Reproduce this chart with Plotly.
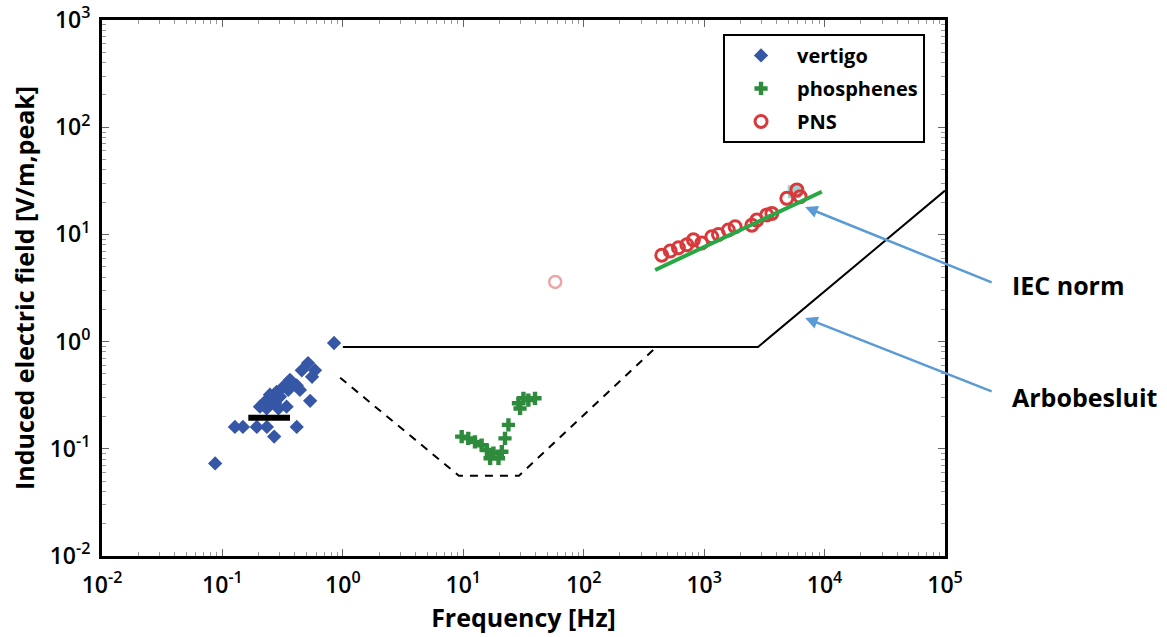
import math
import plotly.graph_objects as go

# Exposure data: frequency [Hz] vs induced electric field [V/m, peak]
vertigo_freq = [0.087, 0.845, 0.514, 0.587, 0.555, 0.535, 0.414, 0.269,
                0.127, 0.148, 0.193, 0.234, 0.364, 0.414, 0.321, 0.352,
                0.282, 0.248, 0.300, 0.257, 0.226, 0.274, 0.205, 0.233,
                0.292, 0.341, 0.440, 0.456]
vertigo_field = [0.073, 0.97, 0.63, 0.54, 0.47, 0.28, 0.16, 0.13,
                 0.16, 0.16, 0.16, 0.16, 0.44, 0.39, 0.38, 0.354,
                 0.34, 0.32, 0.306, 0.285, 0.275, 0.266, 0.247, 0.238,
                 0.238, 0.247, 0.354, 0.54]

phosphenes_freq = [9.7, 11.0, 12.5, 14.2, 15.7, 17.8, 16.7, 19.6, 20.9,
                   22.2, 23.7, 28.7, 31.6, 34.7, 39.4, 29.6]
phosphenes_field = [0.13, 0.125, 0.116, 0.108, 0.0975, 0.091, 0.0815, 0.0815,
                    0.094, 0.125, 0.167, 0.266, 0.296, 0.285, 0.296, 0.238]

pns_freq = [445, 523, 612, 718, 815, 955, 1158, 1315, 1590, 1810,
            2490, 2735, 3310, 3650, 4860, 6270, 5890]
pns_field = [6.4, 7.0, 7.5, 8.0, 8.9, 8.3, 9.5, 10.0, 11.0, 11.8,
             12.2, 13.6, 15.2, 15.7, 21.7, 22.5, 26.0]

pns_faint_freq = [58]
pns_faint_field = [3.6]

marked_freq = [5600]
marked_field = [25.0]

# Limit curves
arbo_freq = [1.0, 2800, 1e5]
arbo_field = [0.89, 0.89, 25.6]

threshold_freq = [0.95, 9.2, 29, 400]
threshold_field = [0.46, 0.056, 0.056, 0.89]

iec_freq = [392, 9480]
iec_field = [4.66, 25.0]

vertigo_band_freq = [0.164, 0.364]
vertigo_band_field = [0.195, 0.195]

# Axis ticks
x_tick_vals = [1e-2, 1e-1, 1e0, 1e1, 1e2, 1e3, 1e4, 1e5]
x_tick_text = ["10<sup>-2</sup>", "10<sup>-1</sup>", "10<sup>0</sup>", "10<sup>1</sup>",
               "10<sup>2</sup>", "10<sup>3</sup>", "10<sup>4</sup>", "10<sup>5</sup>"]
y_tick_vals = [1e-2, 1e-1, 1e0, 1e1, 1e2, 1e3]
y_tick_text = ["10<sup>-2</sup>", "10<sup>-1</sup>", "10<sup>0</sup>",
               "10<sup>1</sup>", "10<sup>2</sup>", "10<sup>3</sup>"]

FONT = "Open Sans"
BLUE = "#3656a6"
GREEN_MARK = "#2e8b3c"
GREEN_LINE = "#27a845"
RED = "#d8393b"
ARROW = "#5b9bd5"

fig = go.Figure()

fig.add_trace(go.Scatter(x=arbo_freq, y=arbo_field, mode="lines",
                         line=dict(color="black", width=2), showlegend=False,
                         hoverinfo="skip"))
fig.add_trace(go.Scatter(x=threshold_freq, y=threshold_field, mode="lines",
                         line=dict(color="black", width=2, dash="8px,7px"),
                         showlegend=False, hoverinfo="skip"))

fig.add_trace(go.Scatter(x=vertigo_freq, y=vertigo_field, mode="markers",
                         name="vertigo", legendrank=1, legendgroup="v",
                         marker=dict(symbol="diamond", size=11, color=BLUE)))
fig.add_trace(go.Scatter(x=phosphenes_freq, y=phosphenes_field, mode="markers",
                         name="phosphenes", legendrank=2, legendgroup="p",
                         marker=dict(symbol="cross", size=11, color=GREEN_MARK)))
fig.add_trace(go.Scatter(x=marked_freq, y=marked_field, mode="markers",
                         showlegend=False,
                         marker=dict(symbol="square", size=13,
                                     color="rgba(80,175,165,0.55)")))
fig.add_trace(go.Scatter(x=pns_faint_freq, y=pns_faint_field, mode="markers",
                         showlegend=False, opacity=0.45,
                         marker=dict(symbol="circle-open", size=12, color=RED,
                                     line=dict(width=2.5))))
fig.add_trace(go.Scatter(x=pns_freq, y=pns_field, mode="markers",
                         name="PNS", legendrank=3, legendgroup="n",
                         marker=dict(symbol="circle-open", size=12, color=RED,
                                     line=dict(width=3))))
fig.add_trace(go.Scatter(x=iec_freq, y=iec_field, mode="lines",
                         line=dict(color=GREEN_LINE, width=4), showlegend=False,
                         hoverinfo="skip"))
fig.add_trace(go.Scatter(x=vertigo_band_freq, y=vertigo_band_field, mode="lines",
                         line=dict(color="black", width=6), showlegend=False,
                         hoverinfo="skip"))

axis_common = dict(
    type="log", automargin=False,
    showline=True, linecolor="black", linewidth=3, mirror="ticks",
    ticks="inside", ticklen=7, tickwidth=1, tickcolor="#666",
    showgrid=False, zeroline=False,
    tickfont=dict(family=FONT, size=23, color="black", weight=600),
    title_font=dict(family=FONT, size=25, color="black", weight="bold"),
    minor=dict(ticks="inside", ticklen=4, tickwidth=1, tickcolor="#999",
               dtick="D1", showgrid=False),
)

fig.update_xaxes(**axis_common, range=[-2, 5], tickmode="array",
                 tickvals=x_tick_vals, ticktext=x_tick_text,
                 ticklabelstandoff=6,
                 title=dict(text="Frequency [Hz]", standoff=6))
fig.update_yaxes(**axis_common, range=[-2, 3], tickmode="array",
                 tickvals=y_tick_vals, ticktext=y_tick_text,
                 ticklabelstandoff=4,
                 title=dict(text="Induced electric field [V/m,peak]", standoff=8))

# Arrows pointing to the limit curves, with their labels
fig.add_annotation(x=math.log10(6900), y=math.log10(18.0), ax=188, ay=76,
                   text="", showarrow=True, arrowhead=2, arrowsize=1,
                   arrowwidth=2.5, arrowcolor=ARROW)
fig.add_annotation(x=math.log10(6900), y=math.log10(1.66), ax=188, ay=74,
                   text="", showarrow=True, arrowhead=2, arrowsize=1,
                   arrowwidth=2.5, arrowcolor=ARROW)
fig.add_annotation(xref="paper", yref="paper", x=1.077, y=0.5056,
                   xanchor="left", yanchor="middle", showarrow=False,
                   text="IEC norm",
                   font=dict(family=FONT, size=25, color="black", weight="bold"))
fig.add_annotation(xref="paper", yref="paper", x=1.077, y=0.2966,
                   xanchor="left", yanchor="middle", showarrow=False,
                   text="Arbobesluit",
                   font=dict(family=FONT, size=25, color="black", weight="bold"))

fig.update_layout(
    width=1167, height=637,
    margin=dict(l=102, r=222, t=20, b=81, autoexpand=False),
    plot_bgcolor="white", paper_bgcolor="white",
    legend=dict(x=0.7367, y=0.974, xanchor="left", yanchor="top",
                bgcolor="white", bordercolor="black", borderwidth=2,
                itemwidth=62, traceorder="grouped", tracegroupgap=4,
                font=dict(family=FONT, size=20, color="black", weight="bold")),
)

fig.write_html("out.html")
